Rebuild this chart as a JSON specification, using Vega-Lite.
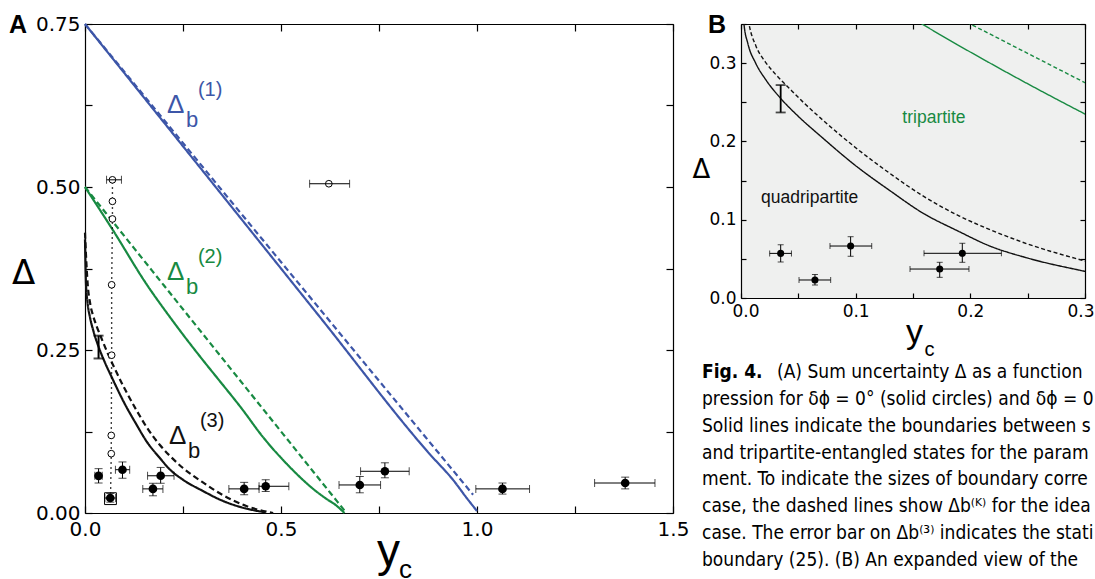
{
  "$schema": "https://vega.github.io/schema/vega-lite/v6.json",
  "padding": {"left": 9, "top": 13, "right": 0, "bottom": 0},
  "background": "white",
  "bounds": "flush",
  "spacing": 68,
  "resolve": {"scale": {"strokeDash": "independent"}},
  "config": {
    "view": {"stroke": null},
    "font": "Liberation Sans",
    "axis": {"domainColor": "#000", "domainWidth": 1.2, "tickColor": "#000", "tickWidth": 1.2, "labelColor": "#000", "titleColor": "#000", "grid": false, "labelFont": "DejaVu Sans", "titleFont": "Liberation Sans", "titleFontWeight": "normal", "labelOverlap": false}
  },
  "datasets": {
    "curves": [
      {"k": "1", "kind": "solid", "x": 0, "y": 0.75},
      {"k": "1", "kind": "solid", "x": 0.3, "y": 0.525},
      {"k": "1", "kind": "solid", "x": 0.6, "y": 0.3},
      {"k": "1", "kind": "solid", "x": 0.88, "y": 0.09},
      {"k": "1", "kind": "solid", "x": 0.94, "y": 0.05},
      {"k": "1", "kind": "solid", "x": 0.975, "y": 0.022},
      {"k": "1", "kind": "solid", "x": 1.0, "y": 0.003},
      {"k": "1", "kind": "dashed", "x": 0, "y": 0.75},
      {"k": "1", "kind": "dashed", "x": 0.5, "y": 0.385},
      {"k": "1", "kind": "dashed", "x": 0.99, "y": 0.028},
      {"k": "2", "kind": "solid", "x": 0, "y": 0.5},
      {"k": "2", "kind": "solid", "x": 0.07, "y": 0.435},
      {"k": "2", "kind": "solid", "x": 0.158, "y": 0.35},
      {"k": "2", "kind": "solid", "x": 0.216, "y": 0.301},
      {"k": "2", "kind": "solid", "x": 0.3, "y": 0.235},
      {"k": "2", "kind": "solid", "x": 0.3375, "y": 0.207},
      {"k": "2", "kind": "solid", "x": 0.4, "y": 0.16},
      {"k": "2", "kind": "solid", "x": 0.452, "y": 0.118},
      {"k": "2", "kind": "solid", "x": 0.52, "y": 0.072},
      {"k": "2", "kind": "solid", "x": 0.58, "y": 0.038},
      {"k": "2", "kind": "solid", "x": 0.615, "y": 0.022},
      {"k": "2", "kind": "solid", "x": 0.64, "y": 0.012},
      {"k": "2", "kind": "solid", "x": 0.662, "y": 0.0},
      {"k": "2", "kind": "dashed", "x": 0, "y": 0.5},
      {"k": "2", "kind": "dashed", "x": 0.2, "y": 0.35},
      {"k": "2", "kind": "dashed", "x": 0.3, "y": 0.275},
      {"k": "2", "kind": "dashed", "x": 0.667, "y": 0.0},
      {"k": "3", "kind": "solid", "x": 0, "y": 0.42},
      {"k": "3", "kind": "solid", "x": 0.0012, "y": 0.38},
      {"k": "3", "kind": "solid", "x": 0.0026, "y": 0.35},
      {"k": "3", "kind": "solid", "x": 0.006, "y": 0.325},
      {"k": "3", "kind": "solid", "x": 0.0128, "y": 0.3},
      {"k": "3", "kind": "solid", "x": 0.022, "y": 0.278},
      {"k": "3", "kind": "solid", "x": 0.0346, "y": 0.255},
      {"k": "3", "kind": "solid", "x": 0.05, "y": 0.232},
      {"k": "3", "kind": "solid", "x": 0.07, "y": 0.206},
      {"k": "3", "kind": "solid", "x": 0.1, "y": 0.169},
      {"k": "3", "kind": "solid", "x": 0.13, "y": 0.137},
      {"k": "3", "kind": "solid", "x": 0.158, "y": 0.109},
      {"k": "3", "kind": "solid", "x": 0.19, "y": 0.085},
      {"k": "3", "kind": "solid", "x": 0.216, "y": 0.067},
      {"k": "3", "kind": "solid", "x": 0.25, "y": 0.051},
      {"k": "3", "kind": "solid", "x": 0.3, "y": 0.034},
      {"k": "3", "kind": "solid", "x": 0.35, "y": 0.019},
      {"k": "3", "kind": "solid", "x": 0.41, "y": 0.007},
      {"k": "3", "kind": "solid", "x": 0.461, "y": 0.001},
      {"k": "3", "kind": "dashed", "x": 0, "y": 0.43},
      {"k": "3", "kind": "dashed", "x": 0.003, "y": 0.39},
      {"k": "3", "kind": "dashed", "x": 0.007, "y": 0.35},
      {"k": "3", "kind": "dashed", "x": 0.013, "y": 0.322},
      {"k": "3", "kind": "dashed", "x": 0.021, "y": 0.302},
      {"k": "3", "kind": "dashed", "x": 0.03, "y": 0.286},
      {"k": "3", "kind": "dashed", "x": 0.042, "y": 0.268},
      {"k": "3", "kind": "dashed", "x": 0.055, "y": 0.249},
      {"k": "3", "kind": "dashed", "x": 0.07, "y": 0.229},
      {"k": "3", "kind": "dashed", "x": 0.1, "y": 0.192},
      {"k": "3", "kind": "dashed", "x": 0.13, "y": 0.159},
      {"k": "3", "kind": "dashed", "x": 0.158, "y": 0.131},
      {"k": "3", "kind": "dashed", "x": 0.19, "y": 0.105},
      {"k": "3", "kind": "dashed", "x": 0.216, "y": 0.088},
      {"k": "3", "kind": "dashed", "x": 0.25, "y": 0.069},
      {"k": "3", "kind": "dashed", "x": 0.298, "y": 0.048},
      {"k": "3", "kind": "dashed", "x": 0.35, "y": 0.028},
      {"k": "3", "kind": "dashed", "x": 0.41, "y": 0.011},
      {"k": "3", "kind": "dashed", "x": 0.48, "y": 0.0}
    ],
    "pts": [
      {"x": 0.0346, "y": 0.057, "xlo": 0.025, "xhi": 0.044, "ylo": 0.046, "yhi": 0.068},
      {"x": 0.0645, "y": 0.023, "xlo": 0.0506, "xhi": 0.0782, "ylo": 0.0166, "yhi": 0.03},
      {"x": 0.0956, "y": 0.0664, "xlo": 0.0776, "xhi": 0.114, "ylo": 0.0533, "yhi": 0.0783},
      {"x": 0.1733, "y": 0.037, "xlo": 0.1474, "xhi": 0.1988, "ylo": 0.0264, "yhi": 0.0456},
      {"x": 0.193, "y": 0.0571, "xlo": 0.1596, "xhi": 0.2271, "ylo": 0.0456, "yhi": 0.0699},
      {"x": 0.406, "y": 0.037, "xlo": 0.367, "xhi": 0.444, "ylo": 0.028, "yhi": 0.047},
      {"x": 0.461, "y": 0.041, "xlo": 0.444, "xhi": 0.52, "ylo": 0.033, "yhi": 0.051},
      {"x": 0.701, "y": 0.043, "xlo": 0.648, "xhi": 0.754, "ylo": 0.031, "yhi": 0.056},
      {"x": 0.765, "y": 0.064, "xlo": 0.703, "xhi": 0.827, "ylo": 0.054, "yhi": 0.077},
      {"x": 1.065, "y": 0.037, "xlo": 0.997, "xhi": 1.134, "ylo": 0.029, "yhi": 0.046},
      {"x": 1.378, "y": 0.046, "xlo": 1.3, "xhi": 1.454, "ylo": 0.037, "yhi": 0.055}
    ],
    "open": [
      {"grp": "scan", "marker": "square", "x": 0.065, "y": 0.022},
      {"grp": "scan", "marker": "circle", "x": 0.067, "y": 0.091},
      {"grp": "scan", "marker": "circle", "x": 0.067, "y": 0.119},
      {"grp": "scan", "marker": "circle", "x": 0.068, "y": 0.242},
      {"grp": "scan", "marker": "circle", "x": 0.068, "y": 0.35},
      {"grp": "scan", "marker": "circle", "x": 0.07, "y": 0.451},
      {"grp": "scan", "marker": "circle", "x": 0.07, "y": 0.478},
      {"grp": "scan", "marker": "circle", "x": 0.07, "y": 0.511, "xlo": 0.055, "xhi": 0.093},
      {"grp": "single", "marker": "circle", "x": 0.622, "y": 0.505, "xlo": 0.573, "xhi": 0.675}
    ],
    "b3err": [{"x": 0.0346, "ylo": 0.237, "yhi": 0.272}],
    "labels": [
      {"k": "1", "sup": "(1)", "x": 0.209, "y": 0.6135},
      {"k": "2", "sup": "(2)", "x": 0.209, "y": 0.357},
      {"k": "3", "sup": "(3)", "x": 0.214, "y": 0.1058}
    ],
    "regions": [
      {"k": "2", "name": "tripartite", "x": 0.1683, "y": 0.23},
      {"k": "3", "name": "quadripartite", "x": 0.0599, "y": 0.1274}
    ],
    "caption": [
      {"line": 1, "style": "bold", "text": "Fig. 4."},
      {"line": 1, "style": "lead", "text": "(A) Sum uncertainty Δ as a function of"},
      {"line": 2, "style": "body", "text": "pression for δϕ = 0° (solid circles) and δϕ = 0° to"},
      {"line": 3, "style": "body", "text": "Solid lines indicate the boundaries between sep"},
      {"line": 4, "style": "body", "text": "and tripartite-entangled states for the paramet"},
      {"line": 5, "style": "body", "text": "ment. To indicate the sizes of boundary correcti"},
      {"line": 6, "style": "body", "text": "case, the dashed lines show Δb⁽ᴷ⁾ for the ideal bal"},
      {"line": 7, "style": "body", "text": "case. The error bar on Δb⁽³⁾ indicates the statistica"},
      {"line": 8, "style": "body", "text": "boundary (25). (B) An expanded view of the qu"}
    ]
  },
  "hconcat": [
    {
      "width": 588,
      "height": 489,
      "title": {"text": "A", "anchor": "start", "frame": "group", "fontSize": 25, "fontWeight": "bold", "font": "Liberation Sans", "dx": -76, "dy": 24, "offset": 0, "color": "#000"},
      "resolve": {"axis": {"x": "independent", "y": "independent"}},
      "layer": [
        {
          "data": {"name": "curves"},
          "mark": {"type": "line", "strokeWidth": 2.2, "interpolate": "monotone"},
          "encoding": {
            "x": {"field": "x", "type": "quantitative", "scale": {"domain": [0, 1.5], "nice": false, "zero": false},
              "axis": {"orient": "bottom", "values": [0, 0.25, 0.5, 0.75, 1, 1.25, 1.5], "format": ".1f", "labelExpr": "round(datum.value*4)%2===0 ? datum.label : ''", "labelFlush": false, "tickSize": -7, "labelPadding": 13, "labelFontSize": 20, "title": "y", "titleFontSize": 46, "titleX": 303, "titleY": 52, "titleAlign": "center", "titleBaseline": "alphabetic"}},
            "y": {"field": "y", "type": "quantitative", "scale": {"domain": [0, 0.75], "nice": false, "zero": false},
              "axis": {"orient": "left", "values": [0, 0.125, 0.25, 0.375, 0.5, 0.625, 0.75], "format": ".2f", "labelExpr": "round(datum.value*8)%2===0 ? datum.label : ''", "labelFlush": false, "tickSize": -7, "labelPadding": 12, "labelFontSize": 20, "title": "Δ", "titleAngle": 0, "titleFont": "DejaVu Sans", "titleFontSize": 34, "titleX": -62, "titleY": 249, "titleAlign": "center", "titleBaseline": "middle"}},
            "color": {"field": "k", "type": "nominal", "scale": {"domain": ["1", "2", "3"], "range": ["#3d56a8", "#188a42", "#111111"]}, "legend": null},
            "strokeDash": {"field": "kind", "type": "nominal", "scale": {"domain": ["solid", "dashed"], "range": [[1, 0], [6, 3.5]]}, "legend": null}
          }
        },
        {
          "data": {"name": "open"},
          "transform": [{"filter": "datum.grp === 'scan'"}],
          "mark": {"type": "line", "strokeDash": [1.5, 3.5], "strokeWidth": 1.4, "color": "#000"},
          "encoding": {
            "x": {"field": "x", "type": "quantitative", "scale": {"domain": [0, 1.5], "nice": false, "zero": false},
              "axis": {"orient": "top", "values": [0, 0.25, 0.5, 0.75, 1, 1.25, 1.5], "labels": false, "tickSize": -7, "title": "c", "titleFontSize": 26, "titleX": 320, "titleY": 553, "titleAlign": "center", "titleBaseline": "alphabetic"}},
            "y": {"field": "y", "type": "quantitative", "scale": {"domain": [0, 0.75], "nice": false, "zero": false},
              "axis": {"orient": "right", "values": [0, 0.125, 0.25, 0.375, 0.5, 0.625, 0.75], "labels": false, "tickSize": -7, "title": null}},
            "order": {"field": "y", "type": "quantitative"}
          }
        },
        {
          "data": {"name": "open"},
          "mark": {"type": "point", "filled": true, "fill": "white", "stroke": "black", "strokeWidth": 1, "opacity": 1},
          "encoding": {
            "x": {"field": "x", "type": "quantitative", "axis": null},
            "y": {"field": "y", "type": "quantitative", "axis": null},
            "shape": {"field": "marker", "type": "nominal", "scale": {"domain": ["circle", "square"], "range": ["circle", "square"]}, "legend": null},
            "size": {"field": "marker", "type": "ordinal", "scale": {"domain": ["circle", "square"], "range": [45, 140]}, "legend": null}
          }
        },
        {
          "data": {"name": "open"},
          "transform": [{"filter": "isValid(datum.xlo)"}],
          "mark": {"type": "errorbar", "color": "black", "ticks": {"size": 8}, "rule": {"strokeWidth": 1}},
          "encoding": {
            "x": {"field": "xlo", "type": "quantitative", "axis": null},
            "x2": {"field": "xhi"},
            "y": {"field": "y", "type": "quantitative", "axis": null}
          }
        },
        {
          "data": {"name": "b3err"},
          "mark": {"type": "errorbar", "color": "black", "ticks": {"size": 10, "thickness": 2}, "rule": {"strokeWidth": 2}},
          "encoding": {
            "y": {"field": "ylo", "type": "quantitative", "axis": null},
            "y2": {"field": "yhi"},
            "x": {"field": "x", "type": "quantitative", "axis": null}
          }
        },
        {
          "data": {"name": "pts"},
          "mark": {"type": "errorbar", "color": "black", "ticks": {"size": 8}, "rule": {"strokeWidth": 1}},
          "encoding": {
            "x": {"field": "xlo", "type": "quantitative", "axis": null},
            "x2": {"field": "xhi"},
            "y": {"field": "y", "type": "quantitative", "axis": null}
          }
        },
        {
          "data": {"name": "pts"},
          "mark": {"type": "errorbar", "color": "black", "ticks": {"size": 8}, "rule": {"strokeWidth": 1}},
          "encoding": {
            "y": {"field": "ylo", "type": "quantitative", "axis": null},
            "y2": {"field": "yhi"},
            "x": {"field": "x", "type": "quantitative", "axis": null}
          }
        },
        {
          "data": {"name": "pts"},
          "mark": {"type": "circle", "size": 75, "color": "black", "opacity": 1},
          "encoding": {
            "x": {"field": "x", "type": "quantitative", "axis": null},
            "y": {"field": "y", "type": "quantitative", "axis": null}
          }
        },
        {
          "data": {"name": "labels"},
          "mark": {"type": "text", "text": "Δ", "font": "Liberation Sans", "fontSize": 26, "align": "left", "baseline": "alphabetic"},
          "encoding": {
            "x": {"field": "x", "type": "quantitative", "axis": null},
            "y": {"field": "y", "type": "quantitative", "axis": null},
            "color": {"field": "k", "type": "nominal", "legend": null}
          }
        },
        {
          "data": {"name": "labels"},
          "mark": {"type": "text", "text": "b", "font": "Liberation Sans", "fontSize": 22, "align": "left", "baseline": "alphabetic", "dx": 19, "dy": 14},
          "encoding": {
            "x": {"field": "x", "type": "quantitative", "axis": null},
            "y": {"field": "y", "type": "quantitative", "axis": null},
            "color": {"field": "k", "type": "nominal", "legend": null}
          }
        },
        {
          "data": {"name": "labels"},
          "mark": {"type": "text", "font": "Liberation Sans", "fontSize": 20, "align": "left", "baseline": "alphabetic", "dx": 31, "dy": -17},
          "encoding": {
            "x": {"field": "x", "type": "quantitative", "axis": null},
            "y": {"field": "y", "type": "quantitative", "axis": null},
            "text": {"field": "sup"},
            "color": {"field": "k", "type": "nominal", "legend": null}
          }
        }
      ]
    },
    {
      "bounds": "flush",
      "spacing": 61,
      "vconcat": [
        {
          "width": 344,
          "height": 274,
          "view": {"fill": "#eff0ef", "stroke": null},
          "title": {"text": "B", "anchor": "start", "frame": "group", "fontSize": 25, "fontWeight": "bold", "font": "Liberation Sans", "dx": -33, "dy": 23, "offset": 0, "color": "#000"},
          "resolve": {"axis": {"x": "independent", "y": "independent"}},
          "layer": [
            {
              "data": {"name": "curves"},
              "transform": [{"filter": "datum.k !== '1'"}],
              "mark": {"type": "line", "strokeWidth": 1.4, "interpolate": "monotone", "clip": true},
              "encoding": {
                "x": {"field": "x", "type": "quantitative", "scale": {"domain": [0, 0.3], "nice": false, "zero": false},
                  "axis": {"orient": "bottom", "values": [0, 0.05, 0.1, 0.15, 0.2, 0.25, 0.3], "format": ".1f", "labelExpr": "round(datum.value*20)%2===0 ? datum.label : ''", "tickSize": -5, "labelPadding": 10, "labelFontSize": 17, "labelFlush": true, "labelFlushOffset": 9, "title": "y", "titleFontSize": 34, "titleX": 173, "titleY": 44, "titleAlign": "center", "titleBaseline": "alphabetic"}},
                "y": {"field": "y", "type": "quantitative", "scale": {"domain": [0, 0.35], "nice": false, "zero": false},
                  "axis": {"orient": "left", "values": [0, 0.05, 0.1, 0.15, 0.2, 0.25, 0.3, 0.35], "format": ".1f", "labelExpr": "round(datum.value*20)%2===0 ? datum.label : ''", "labelFlush": false, "tickSize": -5, "labelPadding": 10, "labelFontSize": 17, "title": "Δ", "titleAngle": 0, "titleFont": "DejaVu Sans", "titleFontSize": 26, "titleX": -40, "titleY": 145, "titleAlign": "center", "titleBaseline": "middle"}},
                "color": {"field": "k", "type": "nominal", "legend": null},
                "strokeDash": {"field": "kind", "type": "nominal", "scale": {"domain": ["solid", "dashed"], "range": [[1, 0], [4, 2.5]]}, "legend": null}
              }
            },
            {
              "data": {"name": "b3err"},
              "mark": {"type": "errorbar", "color": "black", "ticks": {"size": 10, "thickness": 1.8}, "rule": {"strokeWidth": 1.8}},
              "encoding": {
                "y": {"field": "ylo", "type": "quantitative", "axis": null},
                "y2": {"field": "yhi"},
                "x": {"field": "x", "type": "quantitative", "axis": null}
              }
            },
            {
              "data": {"name": "pts"},
              "transform": [{"filter": "datum.x <= 0.3"}],
              "mark": {"type": "errorbar", "color": "black", "ticks": {"size": 6}, "rule": {"strokeWidth": 1}},
              "encoding": {
                "x": {"field": "xlo", "type": "quantitative", "axis": null},
                "x2": {"field": "xhi"},
                "y": {"field": "y", "type": "quantitative", "axis": null}
              }
            },
            {
              "data": {"name": "pts"},
              "transform": [{"filter": "datum.x <= 0.3"}],
              "mark": {"type": "errorbar", "color": "black", "ticks": {"size": 6}, "rule": {"strokeWidth": 1}},
              "encoding": {
                "y": {"field": "ylo", "type": "quantitative", "axis": null},
                "y2": {"field": "yhi"},
                "x": {"field": "x", "type": "quantitative", "axis": null}
              }
            },
            {
              "data": {"name": "pts"},
              "transform": [{"filter": "datum.x <= 0.3"}],
              "mark": {"type": "circle", "size": 50, "color": "black", "opacity": 1},
              "encoding": {
                "x": {"field": "x", "type": "quantitative", "scale": {"domain": [0, 0.3], "nice": false, "zero": false},
                  "axis": {"orient": "top", "values": [0, 0.05, 0.1, 0.15, 0.2, 0.25, 0.3], "labels": false, "tickSize": -5, "title": "c", "titleFontSize": 20, "titleX": 188, "titleY": 331, "titleAlign": "center", "titleBaseline": "alphabetic"}},
                "y": {"field": "y", "type": "quantitative", "scale": {"domain": [0, 0.35], "nice": false, "zero": false},
                  "axis": {"orient": "right", "values": [0, 0.05, 0.1, 0.15, 0.2, 0.25, 0.3, 0.35], "labels": false, "tickSize": -5, "title": null}}
              }
            },
            {
              "data": {"name": "regions"},
              "mark": {"type": "text", "font": "Liberation Sans", "fontSize": 17.5, "align": "center", "baseline": "middle"},
              "encoding": {
                "x": {"field": "x", "type": "quantitative", "axis": null},
                "y": {"field": "y", "type": "quantitative", "axis": null},
                "text": {"field": "name"},
                "color": {"field": "k", "type": "nominal", "legend": null}
              }
            }
          ]
        },
        {
          "width": 344,
          "height": 214,
          "data": {"name": "caption"},
          "layer": [
            {
              "transform": [{"filter": "datum.style === 'bold'"}],
              "mark": {"type": "text", "font": "DejaVu Sans Condensed, Liberation Sans, sans-serif", "fontWeight": "bold", "fontSize": 19, "align": "left", "baseline": "middle", "dx": -39, "color": "#000"},
              "encoding": {
                "x": {"datum": 0, "type": "quantitative", "scale": {"domain": [0, 1]}, "axis": null},
                "y": {"field": "line", "type": "quantitative", "scale": {"domain": [0.5, 8.5], "reverse": true}, "axis": null},
                "text": {"field": "text"}
              }
            },
            {
              "transform": [{"filter": "datum.style === 'lead'"}],
              "mark": {"type": "text", "font": "DejaVu Sans Condensed, Liberation Sans, sans-serif", "fontSize": 19, "align": "left", "baseline": "middle", "dx": 36, "limit": 317, "ellipsis": "\u200b", "color": "#000"},
              "encoding": {
                "x": {"datum": 0, "type": "quantitative", "scale": {"domain": [0, 1]}, "axis": null},
                "y": {"field": "line", "type": "quantitative", "scale": {"domain": [0.5, 8.5], "reverse": true}, "axis": null},
                "text": {"field": "text"}
              }
            },
            {
              "transform": [{"filter": "datum.style === 'body'"}],
              "mark": {"type": "text", "font": "DejaVu Sans Condensed, Liberation Sans, sans-serif", "fontSize": 19, "align": "left", "baseline": "middle", "dx": -39, "limit": 392, "ellipsis": "\u200b", "color": "#000"},
              "encoding": {
                "x": {"datum": 0, "type": "quantitative", "scale": {"domain": [0, 1]}, "axis": null},
                "y": {"field": "line", "type": "quantitative", "scale": {"domain": [0.5, 8.5], "reverse": true}, "axis": null},
                "text": {"field": "text"}
              }
            }
          ]
        }
      ]
    }
  ]
}
